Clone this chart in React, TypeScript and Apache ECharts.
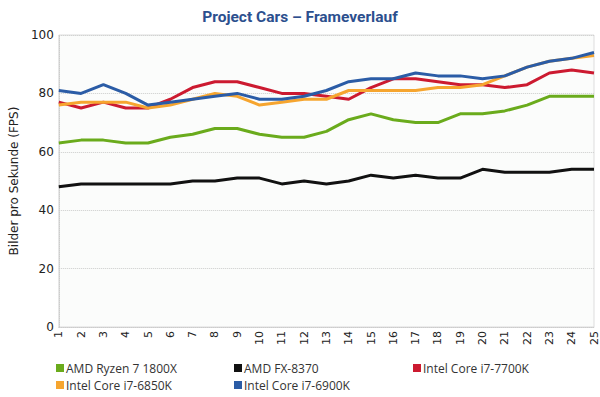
import React, { useEffect, useRef } from "react";
import * as echarts from "echarts";

const runs = ["1","2","3","4","5","6","7","8","9","10","11","12","13","14","15","16","17","18","19","20","21","22","23","24","25"];

const ryzen1800x = [63, 64, 64, 63, 63, 65, 66, 68, 68, 66, 65, 65, 67, 71, 73, 71, 70, 70, 73, 73, 74, 76, 79, 79, 79];
const fx8370 = [48, 49, 49, 49, 49, 49, 50, 50, 51, 51, 49, 50, 49, 50, 52, 51, 52, 51, 51, 54, 53, 53, 53, 54, 54];
const i7700k = [77, 75, 77, 75, 75, 78, 82, 84, 84, 82, 80, 80, 79, 78, 82, 85, 85, 84, 83, 83, 82, 83, 87, 88, 87];
const i6850k = [76, 77, 77, 77, 75, 76, 78, 80, 79, 76, 77, 78, 78, 81, 81, 81, 81, 82, 82, 83, 86, 89, 91, 92, 93];
const i6900k = [81, 80, 83, 80, 76, 77, 78, 79, 80, 78, 78, 79, 81, 84, 85, 85, 87, 86, 86, 85, 86, 89, 91, 92, 94];

const seriesNames = ["AMD Ryzen 7 1800X", "AMD FX-8370", "Intel Core i7-7700K", "Intel Core i7-6850K", "Intel Core i7-6900K"];
const seriesColors = ["#6aab1c", "#111111", "#cc1a30", "#f6a52f", "#2b5ca6"];
const seriesData = [ryzen1800x, fx8370, i7700k, i6850k, i6900k];
const drawOrder = [1, 0, 2, 3, 4];

const legendPos = [
  { left: 56, top: 362 },
  { left: 234, top: 362 },
  { left: 413, top: 362 },
  { left: 56, top: 379 },
  { left: 234, top: 379 },
];

export default function App() {
  const ref = useRef<HTMLDivElement>(null);
  useEffect(() => {
    if (!ref.current) return;
    const chart = echarts.init(ref.current, undefined, { renderer: "svg" });
    chart.setOption({
      animation: false,
      backgroundColor: "#ffffff",
      title: {
        text: "Project Cars – Frameverlauf",
        left: "center",
        top: 4,
        textStyle: {
          fontFamily: "Roboto",
          fontWeight: "bold",
          fontSize: 15.5,
          color: "#2c4f8e",
        },
      },
      legend: seriesNames.map((n, i) => ({
        data: [n],
        left: legendPos[i].left,
        top: legendPos[i].top,
        icon: "rect",
        itemWidth: 8,
        itemHeight: 8,
        itemGap: 0,
        padding: 0,
        selectedMode: false,
        textStyle: { fontFamily: "Open Sans", fontSize: 12, color: "#333", padding: [0, 0, 0, -3] },
      })),
      grid: {
        left: 57,
        right: 6,
        top: 35,
        bottom: 70,
        show: true,
        backgroundColor: "#fbfcfb",
        borderColor: "#dddddd",
        borderWidth: 1,
      },
      xAxis: {
        type: "category",
        data: runs,
        boundaryGap: false,
        axisLine: { show: true, lineStyle: { color: "#cccccc", type: "dotted" } },
        axisTick: { show: false },
        axisLabel: {
          rotate: 90,
          interval: 0,
          fontFamily: "DejaVu Sans",
          fontSize: 11,
          color: "#222",
          margin: 4,
        },
        splitLine: { show: false },
      },
      yAxis: {
        type: "value",
        min: 0,
        max: 100,
        interval: 20,
        name: "Bilder pro Sekunde (FPS)",
        nameLocation: "middle",
        nameGap: 36,
        nameTextStyle: { fontFamily: "DejaVu Sans", fontSize: 12, color: "#222" },
        axisLine: { show: true, lineStyle: { color: "#cccccc", type: "dotted" } },
        axisTick: { show: false },
        axisLabel: { fontFamily: "DejaVu Sans", fontSize: 12, color: "#222", margin: 5 },
        splitLine: { show: true, lineStyle: { color: "#cccccc", type: "dotted" } },
      },
      series: drawOrder.map((i) => ({
        name: seriesNames[i],
        type: "line",
        data: seriesData[i],
        color: seriesColors[i],
        symbol: "none",
        lineStyle: { width: 3, color: seriesColors[i] },
      })),
    });
    return () => chart.dispose();
  }, []);
  return <div ref={ref} style={{ position: "fixed", left: 0, top: 0, width: 600, height: 397 }} />;
}
